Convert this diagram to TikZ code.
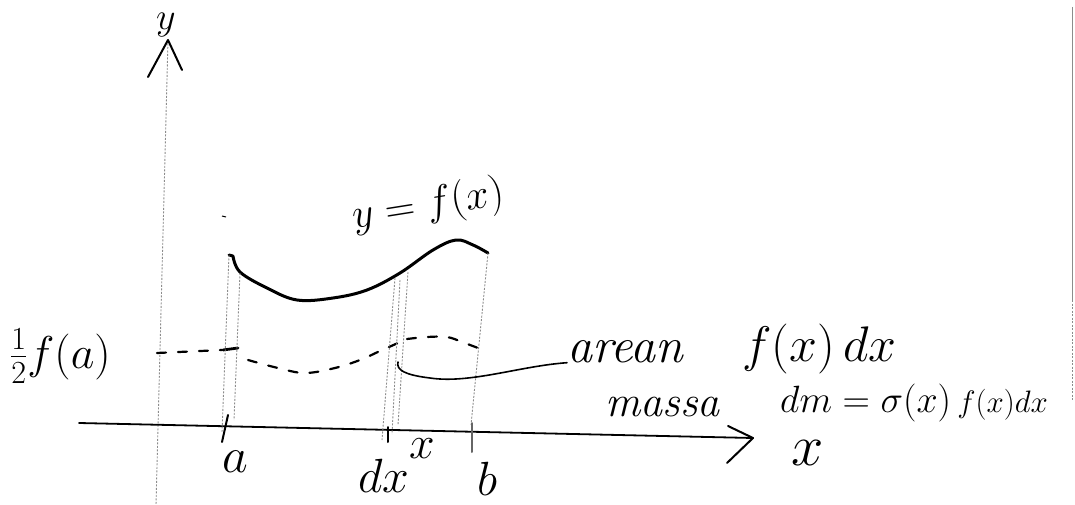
\RequirePackage{fix-cm}
\documentclass[tikz,border=0pt]{standalone}
\usepackage{tikz}
\usetikzlibrary{positioning,calc}
\tikzset{
  crv/.style={line width=3pt, draw=black, line cap=round, line join=round},
  axs/.style={line width=1.8pt, draw=black, line cap=round},
  barb/.style={line width=2pt, draw=black, line cap=round, line join=round},
  guide/.style={line width=0.9pt, draw=black!45, dash pattern=on 2pt off 1.5pt},
  halfcrv/.style={line width=2.2pt, draw=black, dash pattern=on 9pt off 12pt, line cap=round},
  lead/.style={line width=1.6pt, draw=black, line cap=round},
  tck/.style={line width=2pt, draw=black, line cap=round},
  lbl/.style={inner sep=0pt, font=\fontsize{#1}{#1}\selectfont},
  lbl/.default=40,
}
\begin{document}
\begin{tikzpicture}[x=1pt,y=-1pt]
  \useasboundingbox (0,0) rectangle (1075,505);

  % axes
  \coordinate (ytip) at (168,40);
  \coordinate (ybot) at (156,505);
  \coordinate (xbeg) at (79,423);
  \coordinate (xtip) at (753,438);
  \draw[guide] (ytip) -- (ybot);
  \draw[barb] (148,77) -- (ytip) -- (182,70);
  \draw[axs] (xbeg) -- (xtip);
  \draw[barb] (728,426) -- (xtip) -- (727,463);

  % the curve y=f(x)
  \coordinate (fa) at (229,255);
  \coordinate (fb) at (488,253);
  \draw[crv] (fa) -- (233,256) plot[smooth, tension=0.6] coordinates
    {(233,256) (240,272) (267,288) (297,300) (333,298) (367,290) (400,273) (433,250) (456,240) (473,245) (fb)};

  % half height curve
  \draw[halfcrv] (157,353) -- (222,350);
  \draw[line width=2.8pt, line cap=round] (223,350) -- (238,348);
  \draw[halfcrv] plot[smooth, tension=0.6] coordinates
    {(248,360) (278,368) (305,373) (335,368) (360,360) (380,351) (398,343)};
  \draw[halfcrv] plot[smooth, tension=0.6] coordinates
    {(407,339) (427,337) (447,337) (462,342) (478,348)};

  % vertical guides
  \draw[guide] (fa) -- (222,432);
  \draw[guide] (240,273) -- (234,420);
  \draw[guide] (395,278) -- (382,440);
  \draw[guide] (400,280) -- (392,434);
  \draw[guide] (408,272) -- (398,425);
  \draw[guide] (fb) -- (471,425);
  \draw[line width=1pt] (222,216) -- (226,217);

  % ticks
  \draw[tck] (228,415) -- (222,442);
  \draw[tck] (388,427) -- (388,442);
  \draw[tck, draw=black!60] (472,423) -- (472,452);

  % labels
  \node[lbl=38] (ylab) at (166,25) {$y$};
  \node[lbl=42, rotate=9] (fxlab) at (428,206) {$y=f(x)$};
  \node[lbl=46, anchor=base west] (half) at (10,368) {$\frac{1}{2}f(a)$};
  \node[lbl=50] (alab) at (235,462) {$a$};
  \node[lbl=48] (dxlab) at (384,476) {$dx$};
  \node[lbl=46] (xsm) at (422,449) {$x$};
  \node[lbl=48] (blab) at (487,479) {$b$};
  \node[lbl=58] (xlab) at (808,453) {$x$};
  \node[lbl=50, anchor=base west] (arean) at (567,362) {\itshape arean};
  \node[lbl=50, anchor=base west] (fdx) at (742,361) {$f(x)\,dx$};
  \node[lbl=44, anchor=base west] (massa) at (605,416) {\itshape massa};
  \node[lbl=38, anchor=base west] (dm) at (780,412)
    {$dm=\sigma(x)$\,\fontsize{31}{31}\selectfont$f(x)dx$};

  % lead from the area label to the strip
  \coordinate (hook) at (398,362);
  \draw[lead] (arean.south west) .. controls (520,366) and (470,384) .. (430,378)
    .. controls (405,375) and (396,370) .. (hook);

  % edge of the sheet
  \draw[line width=1pt, draw=black!45] (1072,7) -- (1072,300);
  \draw[guide] (1072,300) -- (1072,400);
\end{tikzpicture}
\end{document}
